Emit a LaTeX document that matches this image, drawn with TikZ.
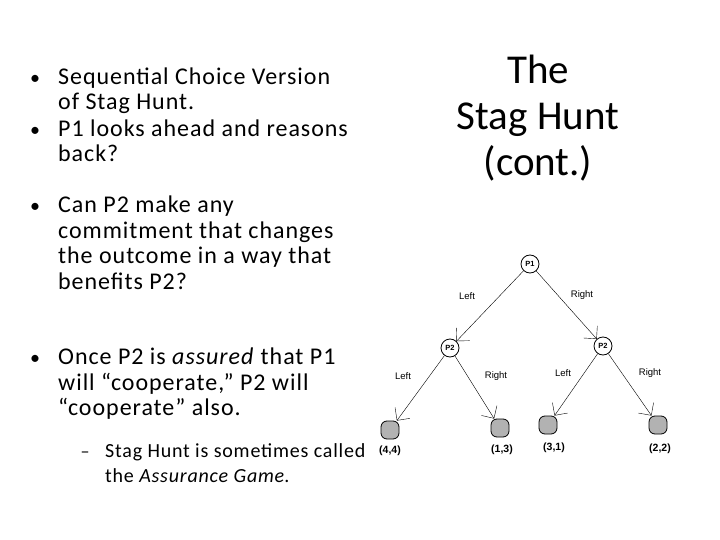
\documentclass[tikz,border=0pt]{standalone}
\usepackage{fontspec}
\setmainfont{Carlito}
\newfontfamily\arial{Liberation Sans}
\newfontfamily\calwide[LetterSpace=4]{Carlito}
\usetikzlibrary{arrows.meta}
\begin{document}
\begin{tikzpicture}[x=1pt,y=-1pt,
  txt/.style={anchor=base west,inner sep=0pt,font=\calwide\fontsize{24}{26}\selectfont},
  bul/.style={anchor=base,inner sep=0pt,font=\fontsize{20}{24}\selectfont},
  dnode/.style={circle,draw,thick,minimum size=18pt,inner sep=0pt,font=\arial\bfseries\fontsize{7.5}{8}\selectfont},
  term/.style={rounded corners=6pt,draw,thick,fill=gray!60,minimum size=18pt,inner sep=0pt},
  lab/.style={font=\arial\fontsize{9.5}{10}\selectfont,inner sep=1pt},
  pay/.style={font=\arial\bfseries\fontsize{10.5}{11}\selectfont,inner sep=1pt},
  edge/.style={-{Straight Barb[angle=90:13pt]},thin}]
\useasboundingbox (0,0) rectangle (720,540);
\fill[white] (0,0) rectangle (720,540);
% left text
\foreach \y in {85,137,213,364}{\node[bul] (b\y) at (35,\y) {•};}
\node[txt] (t1) at (58,85) {Sequential Choice Version};
\node[txt] (t2) at (58,110) {of Stag Hunt.};
\node[txt] (t3) at (58,137) {P1 looks ahead and reasons};
\node[txt] (t4) at (58,162) {back?};
\node[txt] (t5) at (58,213) {Can P2 make any};
\node[txt] (t6) at (58,238) {commitment that changes};
\node[txt] (t7) at (58,263) {the outcome in a way that};
\node[txt] (t8) at (58,289) {benefits P2?};
\node[txt] (t9) at (58,364) {Once P2 is \textit{assured} that P1};
\node[txt] (t10) at (58,390) {will “cooperate,” P2 will};
\node[txt] (t11) at (58,415) {“cooperate” also.};
\node[bul,font=\fontsize{18}{20}\selectfont] (d1) at (85,457) {–};
\node[txt,font=\calwide\fontsize{20}{22}\selectfont] (t12) at (105,457) {Stag Hunt is sometimes called};
\node[txt,font=\calwide\fontsize{20}{22}\selectfont] (t13) at (105,482) {the \textit{Assurance Game}.};
% title
\node[align=center,font=\fontsize{41}{46}\selectfont] (title) at (538,118) {The\\Stag Hunt\\(cont.)};
% tree
\node[dnode] (p1) at (530,264) {P1};
\node[dnode] (p2a) at (450,348) {P2};
\node[dnode] (p2b) at (603,346) {P2};
\node[term] (o1) at (390,430) {};
\node[term] (o2) at (500,428) {};
\node[term] (o3) at (548,425) {};
\node[term] (o4) at (658,425) {};
\draw[edge] (p1) -- (p2a);
\draw[edge] (p1) -- (p2b);
\draw[edge] (p2a) -- (o1);
\draw[edge] (p2a) -- (o2);
\draw[edge] (p2b) -- (o3);
\draw[edge] (p2b) -- (o4);
\node[lab] (l1) at (467,296) {Left};
\node[lab] (l2) at (582,295) {Right};
\node[lab] (l3) at (403,376) {Left};
\node[lab] (l4) at (496,376) {Right};
\node[lab] (l5) at (563,373) {Left};
\node[lab] (l6) at (650,373) {Right};
\node[pay] (q1) at (390,451) {(4,4)};
\node[pay] (q2) at (502,450) {(1,3)};
\node[pay] (q3) at (554,448) {(3,1)};
\node[pay] (q4) at (660,449) {(2,2)};
\end{tikzpicture}
\end{document}
